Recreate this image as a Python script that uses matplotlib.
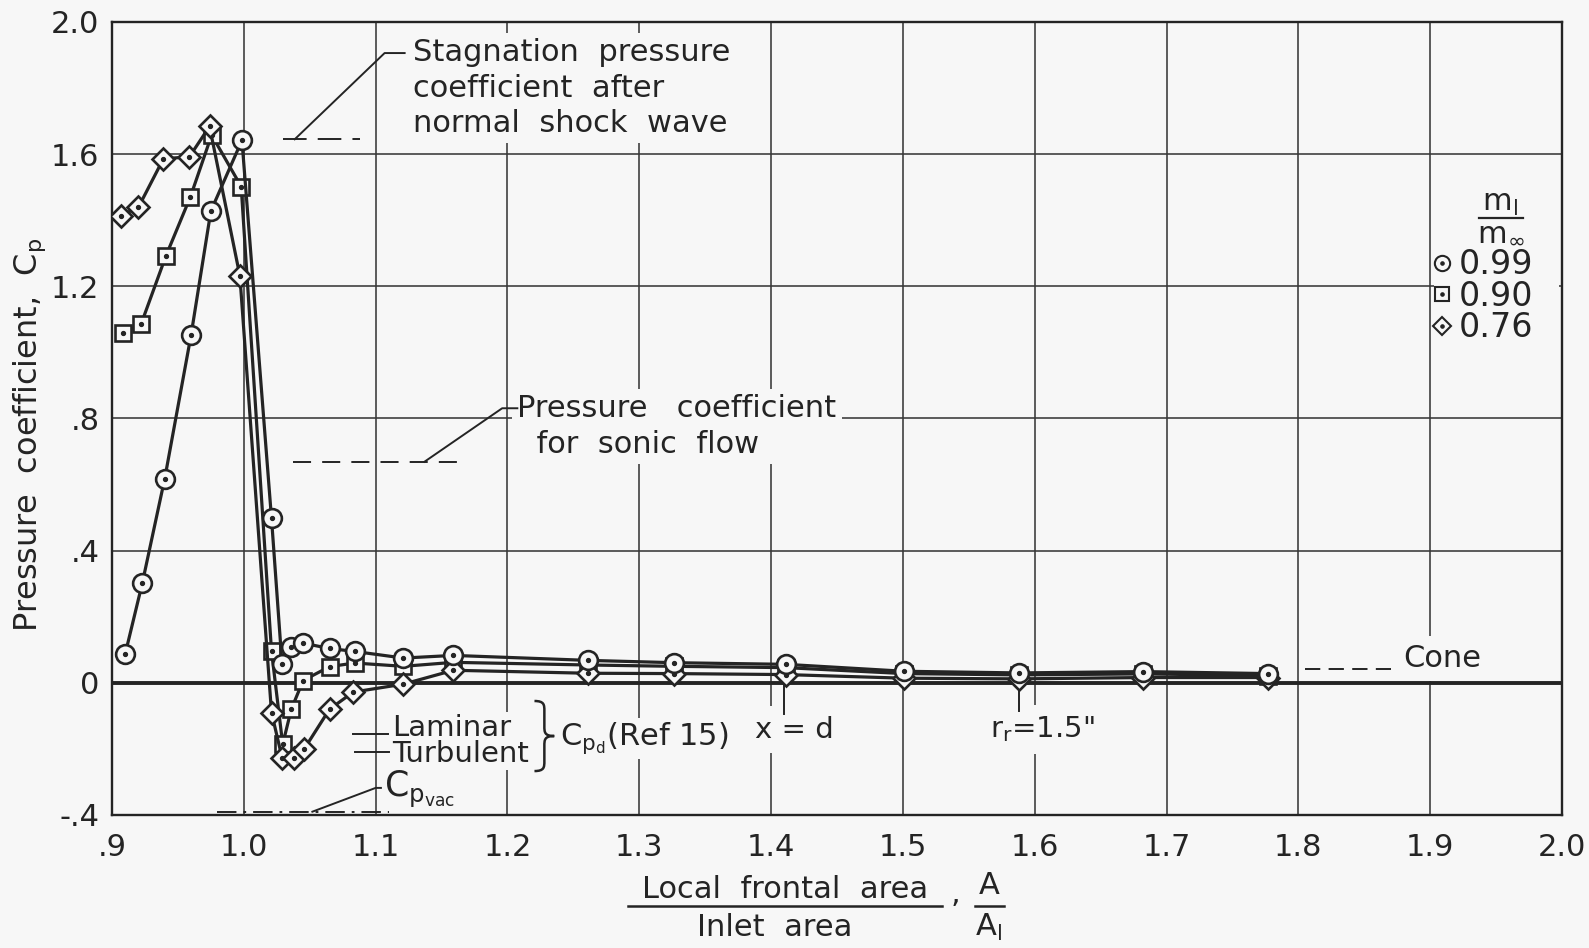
import matplotlib
matplotlib.use("Agg")
import matplotlib.pyplot as plt
from matplotlib.lines import Line2D
from matplotlib.patches import Rectangle, PathPatch
from matplotlib.path import Path

# ---------------- data ----------------
x_099 = [0.910, 0.923, 0.940, 0.960, 0.975, 0.9986, 1.021, 1.029, 1.036, 1.045, 1.065,
         1.084, 1.121, 1.159, 1.261, 1.326, 1.411, 1.501, 1.588, 1.682, 1.777]
cp_099 = [0.087, 0.302, 0.618, 1.053, 1.428, 1.642, 0.498, 0.056, 0.108, 0.120, 0.104,
          0.095, 0.075, 0.083, 0.068, 0.061, 0.056, 0.035, 0.030, 0.034, 0.028]

x_090 = [0.908, 0.922, 0.941, 0.9595, 0.9756, 0.998, 1.021, 1.0295, 1.036, 1.045, 1.065,
         1.084, 1.121, 1.159, 1.261, 1.326, 1.411, 1.501, 1.588, 1.682, 1.777]
cp_090 = [1.058, 1.085, 1.293, 1.471, 1.658, 1.502, 0.096, -0.186, -0.080, 0.007, 0.049,
          0.060, 0.050, 0.062, 0.054, 0.050, 0.046, 0.028, 0.024, 0.027, 0.022]

x_076 = [0.9065, 0.920, 0.939, 0.9587, 0.974, 0.997, 1.021, 1.029, 1.038, 1.046, 1.065,
         1.083, 1.121, 1.159, 1.261, 1.326, 1.411, 1.501, 1.588, 1.682, 1.777]
cp_076 = [1.414, 1.439, 1.586, 1.592, 1.684, 1.232, -0.090, -0.226, -0.226, -0.199, -0.080,
          -0.028, -0.004, 0.038, 0.029, 0.028, 0.025, 0.014, 0.012, 0.016, 0.016]

legend_labels = ["0.99", "0.90", "0.76"]

x_ticks = [0.9, 1.0, 1.1, 1.2, 1.3, 1.4, 1.5, 1.6, 1.7, 1.8, 1.9, 2.0]
x_ticklabels = [".9", "1.0", "1.1", "1.2", "1.3", "1.4", "1.5", "1.6", "1.7", "1.8", "1.9", "2.0"]
y_ticks = [-0.4, 0.0, 0.4, 0.8, 1.2, 1.6, 2.0]
y_ticklabels = ["-.4", "0", ".4", ".8", "1.2", "1.6", "2.0"]

# reference levels
cp_stagnation = 1.645
cp_sonic = 0.669
cp_vac = -0.39
cp_laminar = -0.156
cp_turbulent = -0.210
cp_cone = 0.042
x_station_d = 1.41
x_station_rr = 1.588

# ---------------- style ----------------
BG = "#f7f7f7"
INK = "#242424"
GRID = "#383838"
FS = 22

plt.rcParams.update({
    "font.family": ["DejaVu Sans"],
    "font.size": FS,
    "mathtext.fontset": "dejavusans",
    "lines.scale_dashes": False,
})

W, H = 1589, 948
fig = plt.figure(figsize=(W / 100, H / 100), dpi=100, facecolor=BG)
ax = fig.add_axes([112 / W, 1 - 815 / H, 1450 / W, 793 / H])
ax.set_facecolor(BG)
ax.set_xlim(0.9, 2.0)
ax.set_ylim(-0.4, 2.0)
ax.set_xticks(x_ticks)
ax.set_xticklabels(x_ticklabels)
ax.set_yticks(y_ticks)
ax.set_yticklabels(y_ticklabels)
ax.tick_params(length=0, colors=INK, labelsize=FS)
ax.tick_params(axis="x", pad=13)
ax.tick_params(axis="y", pad=9)
ax.grid(True, color=GRID, lw=1.15)
ax.set_axisbelow(True)
for s in ax.spines.values():
    s.set_linewidth(1.7)
    s.set_color(INK)
ax.axhline(0, color=INK, lw=2.8, zorder=3.2)

# ---------------- series ----------------
series = [
    (x_090, cp_090, "s", 12.0, 4),
    (x_076, cp_076, "D", 10.8, 5),
    (x_099, cp_099, "o", 13.5, 6),
]
for xs, ys, m, ms, z in series:
    ax.plot(xs, ys, color=INK, lw=2.3, marker=m, ms=ms, mfc=BG, mec=INK, mew=1.9, zorder=z)
    ax.plot(xs, ys, ls="none", marker="o", ms=2.8, color=INK, zorder=z + 0.1)

# ---------------- annotations ----------------
box = dict(facecolor=BG, edgecolor="none", pad=4)
thin = dict(color=INK, lw=1.4, zorder=3.5)

# stagnation pressure coefficient
ax.plot([1.030, 1.088], [cp_stagnation, cp_stagnation], ls=(0, (17, 8)), **thin)
ax.plot([1.0386, 1.1068, 1.122], [cp_stagnation, 1.906, 1.906], **thin)
ax.text(1.128, 1.800, "Stagnation  pressure\ncoefficient  after\nnormal  shock  wave",
        ha="left", va="center", linespacing=1.27, bbox=box, zorder=3, color=INK)

# sonic flow
ax.plot([1.037, 1.164], [cp_sonic, cp_sonic], ls=(0, (13, 8)), **thin)
ax.plot([1.137, 1.196, 1.2075], [cp_sonic, 0.831, 0.831], **thin)
ax.text(1.2076, 0.776, "Pressure   coefficient\n  for  sonic  flow",
        ha="left", va="center", linespacing=1.27, bbox=box, zorder=3, color=INK)

# Cp vac
ax.plot([0.98, 1.11], [cp_vac, cp_vac], ls=(0, (14, 5, 2, 5)), **thin)
ax.plot([1.052, 1.10, 1.104], [cp_vac, -0.318, -0.318], **thin)
ax.text(1.106, -0.322, r"C$_{\mathrm{p_{vac}}}$", ha="left", va="center", fontsize=25,
        bbox=dict(facecolor=BG, edgecolor="none", pad=1), zorder=3, color=INK)

# laminar / turbulent  -> Cp_d (Ref 15)
ax.plot([1.083, 1.109], [cp_laminar, cp_laminar], **thin)
ax.plot([1.084, 1.110], [cp_turbulent, cp_turbulent], **thin)
ax.text(1.1125, -0.176, "Laminar\nTurbulent", ha="left", va="center", fontsize=21,
        linespacing=0.93, bbox=dict(facecolor=BG, edgecolor="none", pad=1), zorder=3,
        color=INK)
xl, xm, xr = 1.2205, 1.228, 1.2355
top, bot = -0.055, -0.267
mid = 0.5 * (top + bot)
k = 0.03
brace_verts = [(xl, top), (xm, top), (xm, top - 0.012), (xm, top - k),
               (xm, mid + k),
               (xm, mid + 0.012), (xm, mid), (xr, mid),
               (xm, mid), (xm, mid - 0.012), (xm, mid - k),
               (xm, bot + k),
               (xm, bot + 0.012), (xm, bot), (xl, bot)]
brace_codes = [Path.MOVETO, Path.CURVE4, Path.CURVE4, Path.CURVE4, Path.LINETO,
               Path.CURVE4, Path.CURVE4, Path.CURVE4, Path.CURVE4, Path.CURVE4, Path.CURVE4,
               Path.LINETO, Path.CURVE4, Path.CURVE4, Path.CURVE4]
ax.add_patch(PathPatch(Path(brace_verts, brace_codes), fill=False, edgecolor=INK, lw=1.8,
                       zorder=3.5))
ax.text(1.2395, -0.168, r"C$_{\mathrm{p_d}}$(Ref 15)", ha="left", va="center",
        bbox=dict(facecolor=BG, edgecolor="none", pad=2), zorder=3, color=INK)

# stations
ax.plot([x_station_d, x_station_d], [0.0, -0.095], **thin)
ax.text(1.418, -0.142, "x = d", ha="center", va="center", fontsize=21,
        bbox=dict(facecolor=BG, edgecolor="none", pad=7), zorder=3, color=INK)
ax.plot([x_station_rr, x_station_rr], [0.0, -0.085], **thin)
ax.text(1.606, -0.140, r'r$_{\mathrm{r}}$=1.5"', ha="center", va="center", fontsize=21,
        bbox=dict(facecolor=BG, edgecolor="none", pad=7), zorder=3, color=INK)

# cone
ax.plot([1.805, 1.870], [cp_cone, cp_cone], ls=(0, (11, 6)), **thin)
ax.text(1.8795, 0.074, "Cone", ha="left", va="center",
        bbox=dict(facecolor=BG, edgecolor="none", pad=6), zorder=3, color=INK)

# ---------------- legend ----------------
ax.add_patch(Rectangle((0.912, 0.60), 0.086, 0.205, transform=ax.transAxes,
                       facecolor=BG, edgecolor="none", zorder=1))
markers = [("o", 11.0), ("s", 10.0), ("D", 9.0)]
handles = []
for m, ms in markers:
    h1 = Line2D([], [], ls="none", marker=m, ms=ms, mfc=BG, mec=INK, mew=1.5)
    h2 = Line2D([], [], ls="none", marker="o", ms=2.3, color=INK)
    handles.append((h1, h2))
leg = ax.legend(handles, legend_labels, loc="upper left", bbox_to_anchor=(0.9103, 0.7145),
                frameon=False, fontsize=24, handlelength=0.6, handletextpad=0.2,
                labelspacing=-0.045, borderpad=0, borderaxespad=0)
for t in leg.get_texts():
    t.set_color(INK)
leg.set_zorder(8)

ax.text(0.9575, 0.7715, r"m$_{\mathrm{l}}$", transform=ax.transAxes, ha="center",
        va="center", fontsize=22, color=INK)
ax.plot([0.943, 0.973], [0.7525, 0.7525], transform=ax.transAxes, color=INK, lw=1.6)
ax.text(0.9575, 0.7355, r"m$_{\infty}$", transform=ax.transAxes, ha="center",
        va="center", fontsize=22, color=INK)

# ---------------- axis labels ----------------
fig.text(30 / W, 1 - 435 / H, r"Pressure  coefficient,  C$_{\mathrm{p}}$", rotation=90,
         ha="center", va="center", fontsize=23, color=INK)

fig.text(785 / W, 1 - 889 / H, "Local  frontal  area", ha="center", va="center",
         fontsize=FS, color=INK)
fig.add_artist(Line2D([628 / W, 942 / W], [1 - 906 / H, 1 - 906 / H],
                      transform=fig.transFigure, color=INK, lw=1.8))
fig.text(775 / W, 1 - 927 / H, "Inlet  area", ha="center", va="center",
         fontsize=FS, color=INK)
fig.text(955 / W, 1 - 894 / H, ",", ha="center", va="center", fontsize=FS, color=INK)
fig.text(989 / W, 1 - 886 / H, "A", ha="center", va="center", fontsize=FS, color=INK)
fig.add_artist(Line2D([975 / W, 1004 / W], [1 - 906 / H, 1 - 906 / H],
                      transform=fig.transFigure, color=INK, lw=1.8))
fig.text(989 / W, 1 - 927 / H, r"A$_{\mathrm{l}}$", ha="center", va="center",
         fontsize=FS, color=INK)

fig.savefig("out.png", dpi=100, facecolor=BG)
